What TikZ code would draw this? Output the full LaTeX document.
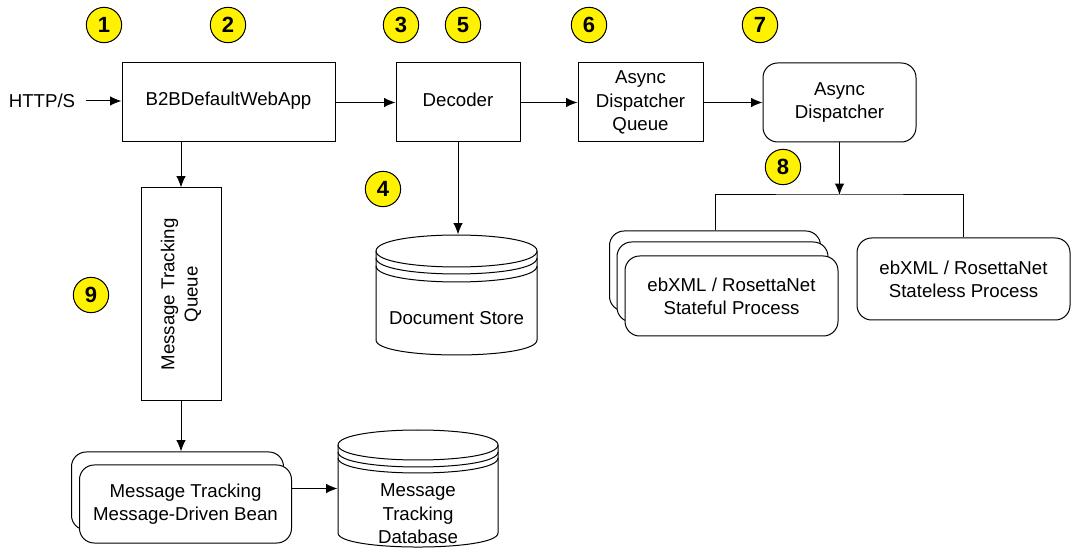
\documentclass[tikz,border=0pt]{standalone}
\usepackage{fontspec}
\setmainfont{Liberation Sans}
\usetikzlibrary{arrows.meta}
\begin{document}
\begin{tikzpicture}[x=0.75pt,y=-0.75pt, line width=0.75pt,
  every node/.style={font=\fontsize{14}{17.5}\selectfont},
  box/.style={draw, fill=white, inner sep=0pt, align=center},
  rbox/.style={box, rounded corners=11pt},
  ghost/.style={inner sep=0pt, draw=none},
  marker/.style={circle, draw, fill=yellow, minimum size=26.5pt, inner sep=0pt,
    font=\fontsize{16.5}{16.5}\selectfont\bfseries},
  arr/.style={-{Latex[length=8.5pt,width=7pt]}},
  lbl/.style={align=center, inner sep=0pt}
  ]
\useasboundingbox (0,0) rectangle (1074,548);

% markers
\node[marker] (m1) at (104,25) {1};
\node[marker] (m2) at (228,25) {2};
\node[marker] (m3) at (401,25) {3};
\node[marker] (m5) at (463,25) {5};
\node[marker] (m6) at (589,25) {6};
\node[marker] (m7) at (760,25) {7};
\node[marker] (m4) at (383,189) {4};
\node[marker] (m8) at (783,167) {8};
\node[marker] (m9) at (91,295) {9};

% top row
\node[lbl] (http) at (42,101) {HTTP/S};
\node[box, minimum width=159.75pt, minimum height=59.25pt] (b2b) at (228.5,102.5) {};
\node[lbl] (b2bt) at (228.5,101) {B2BDefaultWebApp};
\node[box, minimum width=93pt, minimum height=59.25pt] (dec) at (458,102.5) {};
\node[lbl] (dect) at (458,100) {Decoder};
\node[box, minimum width=93.75pt, minimum height=59.25pt] (adq) at (640.5,102.5) {Async\\Dispatcher\\Queue};
\node[rbox, minimum width=114.75pt, minimum height=59.25pt] (ad) at (839.5,102.5) {Async\\Dispatcher};

\draw[arr] (http.east) ++(10,0) coordinate (hs) -- (hs -| b2b.west);
\draw[arr] (b2b.east) -- (dec.west);
\draw[arr] (dec.east) -- (adq.west);
\draw[arr] (adq.east) -- (ad.west);

% processes
\coordinate (split) at (839.5,195);
\node[rbox, minimum width=158.25pt, minimum height=60pt] (sfback) at (715,271) {};
\node[rbox, minimum width=158.25pt, minimum height=60pt] (sfmid) at (722.5,282) {};
\node[rbox, minimum width=159.75pt, minimum height=60pt] (sf) at (731.5,296) {ebXML / RosettaNet\\Stateful Process};
\node[rbox, minimum width=159.75pt, minimum height=61.5pt] (sl) at (963.5,279) {ebXML / RosettaNet\\Stateless Process};
\draw[arr] (ad.south) -- (split);
\draw (sfback.north) |- (split) -| (sl.north);

% document store
\node[ghost, minimum width=120.75pt, minimum height=90pt] (ds) at (456.5,295) {};
\draw[fill=white] (376,251) .. controls (376,229.7) and (537,229.7) .. (537,251)
  -- (537,340) .. controls (537,360) and (376,360) .. (376,340) -- cycle;
\draw (376,251) .. controls (376,272.3) and (537,272.3) .. (537,251);
\draw (376,258) .. controls (376,279.3) and (537,279.3) .. (537,258);
\draw (376,266) .. controls (376,287.3) and (537,287.3) .. (537,266);
\node[lbl] (dst) at (456.5,318) {Document Store};
\draw[arr] (dec.south) -- (dec.south |- ds.north);

% message tracking
\node[box, minimum width=60pt, minimum height=159.75pt] (mtq) at (181,294.5) {};
\node[lbl, rotate=90] (mtqt) at (181,294.5) {Message Tracking\\Queue};
\draw[arr] (mtq.north |- b2b.south) -- (mtq.north);

\node[rbox, minimum width=159pt, minimum height=58.5pt] (mdbback) at (177.5,491) {};
\node[rbox, minimum width=159pt, minimum height=58.5pt] (mdb) at (185.5,504) {Message Tracking\\Message-Driven Bean};
\draw[arr] (mtq.south) -- (mtq.south |- mdbback.north);

\node[ghost, minimum width=120pt, minimum height=87.75pt] (db) at (418,488.5) {};
\draw[fill=white] (338,445) .. controls (338,425) and (498,425) .. (498,445)
  -- (498,533) .. controls (498,551.7) and (338,551.7) .. (338,533) -- cycle;
\draw (338,445) .. controls (338,465) and (498,465) .. (498,445);
\draw (338,452) .. controls (338,472) and (498,472) .. (498,452);
\draw (338,458) .. controls (338,478) and (498,478) .. (498,458);
\node[lbl] (dbt) at (418,514) {Message\\Tracking\\Database};
\draw[arr] (mdb.east |- db.west) -- (db.west);
\end{tikzpicture}
\end{document}
